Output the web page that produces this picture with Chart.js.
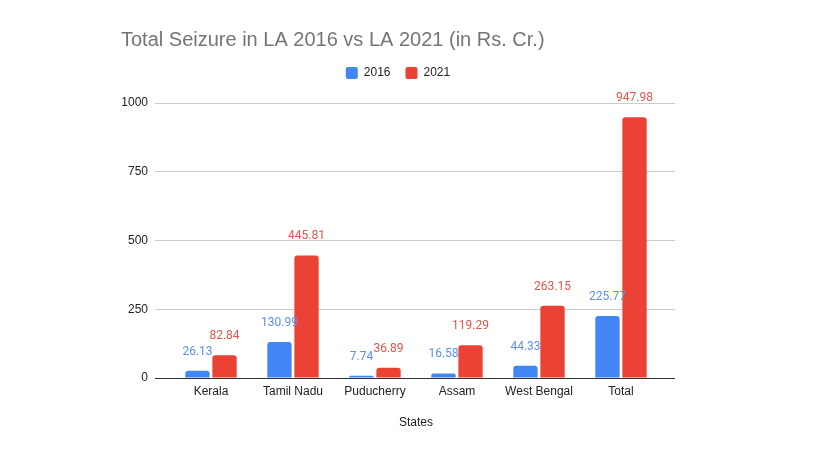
<!DOCTYPE html>
<html>
<head>
<meta charset="utf-8">
<script src="https://cdn.jsdelivr.net/npm/chart.js@4"></script>
<style>
  html, body { margin: 0; padding: 0; background: #fff; }
  #wrap { width: 838px; height: 452px; }
</style>
</head>
<body>
<div id="wrap"><canvas id="seizureChart"></canvas></div>
<script>
const states = ["Kerala", "Tamil Nadu", "Puducherry", "Assam", "West Bengal", "Total"];
const seizure2016 = [26.13, 130.99, 7.74, 16.58, 44.33, 225.77];
const seizure2021 = [82.84, 445.81, 36.89, 119.29, 263.15, 947.98];
const yTicks = [0, 250, 500, 750, 1000];

Chart.defaults.font.family = "'Liberation Sans', Arial, sans-serif";
Chart.defaults.font.size = 12;
Chart.defaults.color = "#222";

const gridColor = (c) => (c.tick && c.tick.value === 0 ? "#333" : "#ccc");

// value labels above each bar, in the series colour
const barValueLabels = {
  id: "barValueLabels",
  afterDatasetsDraw(chart) {
    const ctx = chart.ctx;
    ctx.save();
    ctx.font = "12px Roboto";
    ctx.textAlign = "center";
    ctx.textBaseline = "middle";
    chart.data.datasets.forEach((ds, i) => {
      ctx.fillStyle = ds.labelColor;
      chart.getDatasetMeta(i).data.forEach((bar, j) => {
        ctx.fillText(ds.data[j].toFixed(2), bar.x, bar.y - 19);
      });
    });
    ctx.restore();
  }
};

new Chart(document.getElementById("seizureChart"), {
  type: "bar",
  data: {
    labels: states,
    datasets: [
      {
        label: "2016",
        data: seizure2016,
        backgroundColor: "#4285f4",
        labelColor: "#5a8ff0",
        borderWidth: 0,
        borderRadius: 3,
        categoryPercentage: 0.66,
        barPercentage: 0.9,
        xAxisID: "x",
        yAxisID: "y"
      },
      {
        label: "2021",
        data: seizure2021,
        backgroundColor: "#ea4335",
        labelColor: "#e0554a",
        borderWidth: 0,
        borderRadius: 3,
        categoryPercentage: 0.66,
        barPercentage: 0.9,
        xAxisID: "x",
        yAxisID: "y"
      }
    ]
  },
  options: {
    responsive: true,
    maintainAspectRatio: false,
    animation: false,
    layout: {
      padding: { left: 121, right: 163, top: 0, bottom: 0 }
    },
    scales: {
      x: {
        position: "bottom",
        grid: { display: false, drawTicks: false },
        border: { display: false },
        ticks: { padding: 6, color: "#222" },
        title: {
          display: true,
          text: "States",
          color: "#222",
          font: { size: 12 },
          padding: { top: 4, bottom: 22 }
        },
        afterFit: (s) => { s.height = 74; }
      },
      xTop: {
        type: "category",
        position: "top",
        grid: { display: false },
        border: { display: false },
        ticks: { display: false },
        afterFit: (s) => { s.height = 14; }
      },
      y: {
        position: "left",
        min: 0,
        max: 1000,
        afterBuildTicks: (s) => { s.ticks = yTicks.map((v) => ({ value: v })); },
        ticks: { padding: 7, color: "#222", callback: (v) => String(v) },
        grid: { color: gridColor, tickLength: 15 },
        border: { display: false },
        afterFit: (s) => { s.width = 49; }
      },
      yRight: {
        position: "right",
        min: 0,
        max: 1000,
        afterBuildTicks: (s) => { s.ticks = yTicks.map((v) => ({ value: v })); },
        ticks: { display: false },
        grid: { color: gridColor, tickLength: 13, drawOnChartArea: false },
        border: { display: false },
        afterFit: (s) => { s.width = 13; }
      }
    },
    plugins: {
      title: {
        display: true,
        text: "Total Seizure in LA 2016 vs LA 2021 (in Rs. Cr.)",
        align: "start",
        color: "#757575",
        font: { size: 20, weight: "normal" },
        padding: { top: 28, bottom: 0 }
      },
      legend: {
        position: "top",
        align: "center",
        labels: {
          boxWidth: 12,
          boxHeight: 12,
          padding: 15,
          useBorderRadius: true,
          borderRadius: 2,
          color: "#222",
          font: { size: 12 }
        }
      },
      tooltip: { enabled: false }
    }
  },
  plugins: [barValueLabels]
});
</script>
</body>
</html>
